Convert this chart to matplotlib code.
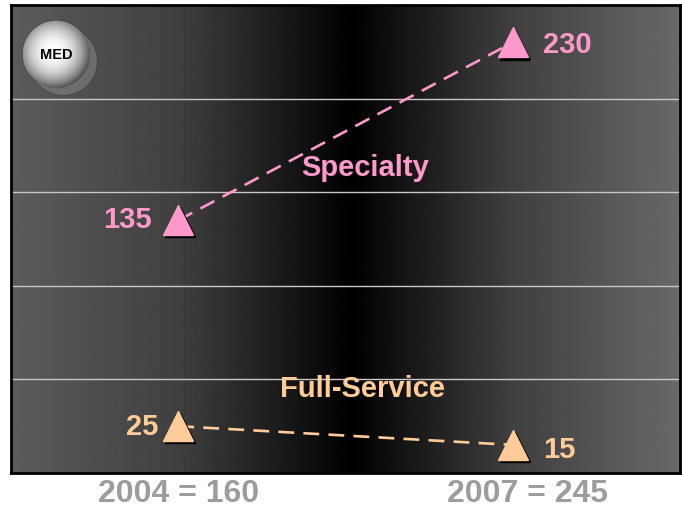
import numpy as np
import matplotlib
matplotlib.use("Agg")
import matplotlib.pyplot as plt
import matplotlib.transforms as mtransforms
from matplotlib.transforms import offset_copy

plt.rcParams['font.family'] = ['Liberation Sans', 'DejaVu Sans']

# data
years = ['2004 = 160', '2007 = 245']
specialty = [135, 230]
full_service = [25, 15]
pink = '#ff99cc'
peach = '#ffcc99'

W, H = 682, 508
fig = plt.figure(figsize=(W / 100, H / 100), dpi=100)
ax = fig.add_axes([11 / W, 35 / H, 669 / W, 468 / H])

# horizontal gray-black-gray gradient background
xs = np.linspace(0, 1, 600)
g = np.interp(xs, [0, 0.25, 0.51, 0.75, 1], [0.36, 0.25, 0.0, 0.25, 0.41])
grad = np.tile(g, (10, 1))
ax.imshow(grad, cmap='gray', vmin=0, vmax=1, aspect='auto',
          extent=[-0.5, 1.5, 0, 250], zorder=0, interpolation='bilinear')

ax.set_xlim(-0.5, 1.5)
ax.set_ylim(0, 250)
for yv in [50, 100, 150, 200]:
    ax.axhline(yv, color='#c8c8c8', lw=1, zorder=1)

x = np.arange(len(years))
shadow = offset_copy(ax.transData, fig=fig, x=1.5, y=-1.5, units='points')

for vals, col in [(specialty, pink), (full_service, peach)]:
    ax.plot(x, vals, color=col, lw=1.9, dashes=(6, 3.5), zorder=2)
    ax.plot(x, vals, '^', ms=22, color='black', transform=shadow, zorder=3)
    ax.plot(x, vals, '^', ms=22, color=col, mec=col, zorder=4)

fs = 21
ax.text(x[0] - 0.08, specialty[0], str(specialty[0]), color=pink, fontsize=fs,
        fontweight='bold', ha='right', va='center')
ax.text(x[1] + 0.09, specialty[1] - 1.5, str(specialty[1]), color=pink,
        fontsize=fs, fontweight='bold', ha='left', va='center')
ax.text(x[0] - 0.06, full_service[0] - 0.5, str(full_service[0]), color=peach,
        fontsize=fs, fontweight='bold', ha='right', va='center')
ax.text(x[1] + 0.09, full_service[1] - 2.5, str(full_service[1]), color=peach,
        fontsize=fs, fontweight='bold', ha='left', va='center')

ax.text(0.56, 163, 'Specialty', color=pink, fontsize=fs, fontweight='bold',
        ha='center', va='center')
ax.text(0.55, 45, 'Full-Service', color=peach, fontsize=fs, fontweight='bold',
        ha='center', va='center')

ax.set_xticks(x)
ax.set_xticklabels(years, fontsize=23, fontweight='bold', color='#9c9c9c')
ax.tick_params(axis='x', length=0, pad=4)
# the second label sits a bit right of its marker in the original
lab = ax.get_xticklabels()[1]
lab.set_transform(lab.get_transform() +
                  mtransforms.ScaledTranslation(15 / 100, 0, fig.dpi_scale_trans))
ax.set_yticks([])
for s in ax.spines.values():
    s.set_linewidth(2)
    s.set_color('black')

# MED ball
bx = fig.add_axes([14 / W, (H - 101) / H, 88 / W, 88 / H])
n = 200
yy, xx = np.mgrid[0:n, 0:n] / n * 88
img = np.zeros((n, n, 4))
cx, cy, r = 42, 41, 34
# soft dotted shadow
sd = np.hypot(xx - (cx + 7), yy - (cy + 7))
sm = sd < r
dots = ((np.arange(n)[:, None] // 2 + np.arange(n)[None, :] // 2) % 2) == 0
img[sm] = [0.47, 0.47, 0.47, 0.55]
img[sm & dots] = [0.52, 0.52, 0.52, 0.75]
d = np.hypot(xx - cx, yy - cy)
m = d < r
hl = np.hypot(xx - (cx - 3), yy - (cy - 3)) / r
v = np.clip(1.0 - 0.55 * hl ** 2.2, 0, 1)
img[m, 0] = v[m]
img[m, 1] = v[m]
img[m, 2] = v[m]
img[m, 3] = 1
bx.imshow(img, origin='upper', extent=[0, 88, 88, 0], interpolation='bilinear')
bx.text(cx, cy + 1, 'MED', fontsize=10.5, fontweight='bold', color='black',
        ha='center', va='center')
bx.set_xlim(0, 88)
bx.set_ylim(88, 0)
bx.axis('off')

fig.savefig('out.png', dpi=100)
